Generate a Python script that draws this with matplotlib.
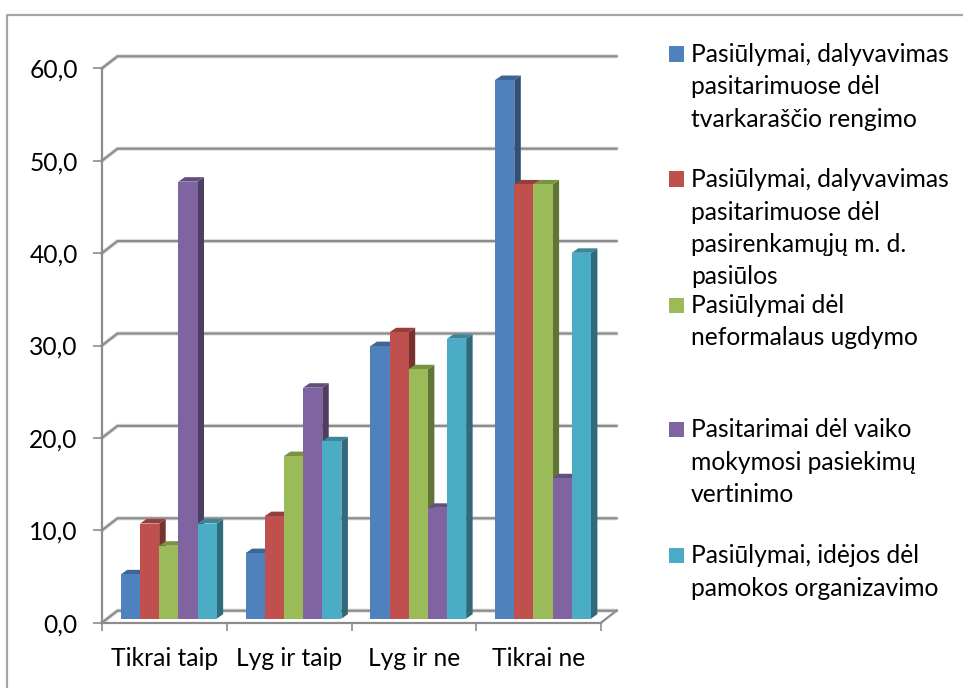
import matplotlib
matplotlib.use("Agg")
import matplotlib.pyplot as plt
from matplotlib.lines import Line2D
from matplotlib.patches import Rectangle
from matplotlib.colors import to_rgb

plt.rcParams['font.family'] = ['Lato', 'DejaVu Sans']

categories = ["Tikrai taip", "Lyg ir taip", "Lyg ir ne", "Tikrai ne"]
s1 = [4.8, 7.1, 29.5, 58.3]
s2 = [10.3, 11.1, 31.0, 47.0]
s3 = [7.9, 17.6, 27.0, 47.0]
s4 = [47.3, 25.0, 12.0, 15.2]
s5 = [10.3, 19.2, 30.3, 39.6]
series = [s1, s2, s3, s4, s5]
colors = ["#4F81BD", "#C0504D", "#9BBB59", "#8064A2", "#4BACC6"]
yticks = [0, 10, 20, 30, 40, 50, 60]
ytick_labels = ["0,0", "10,0", "20,0", "30,0", "40,0", "50,0", "60,0"]
legend_lines = [
    ["Pasiūlymai, dalyvavimas", "pasitarimuose dėl", "tvarkaraščio rengimo"],
    ["Pasiūlymai, dalyvavimas", "pasitarimuose dėl", "pasirenkamųjų m. d.", "pasiūlos"],
    ["Pasiūlymai dėl", "neformalaus ugdymo"],
    ["Pasitarimai dėl vaiko", "mokymosi pasiekimų", "vertinimo"],
    ["Pasiūlymai, idėjos dėl", "pamokos organizavimo"],
]

W, H = 963, 688
FS = 17.7
GRID = "#8C8C8C"
fig = plt.figure(figsize=(W / 100, H / 100), dpi=100, facecolor="white")


def fx(p):
    return p / W


def fy(p):
    return 1 - p / H


# front plane of the chart in pixels
L, R, T, B = 102.0, 601.0, 68.3, 622.7
ax = fig.add_axes([fx(L), fy(B), fx(R) - fx(L), fy(T) - fy(B)])
ax.set_xlim(0, 4)
ax.set_ylim(0, 60)
ax.patch.set_alpha(0)
PX = 4 / (R - L)
PY = 60 / (B - T)

# axes furniture
for s in ("top", "right"):
    ax.spines[s].set_visible(False)
for s in ("left", "bottom"):
    ax.spines[s].set_color(GRID)
    ax.spines[s].set_linewidth(1.6)
ax.set_yticks(yticks)
ax.set_yticklabels(ytick_labels, fontsize=FS, color="black")
ax.set_xticks(range(5))
ax.set_xticklabels([])
ax.set_xticks([i + 0.5 for i in range(4)], minor=True)
ax.set_xticklabels(categories, minor=True, fontsize=FS, color="black")
ax.tick_params(axis="y", length=6.5, width=1.2, color=GRID, pad=11)
ax.tick_params(axis="x", which="major", length=5.5, width=1.2, color=GRID)
ax.tick_params(axis="x", which="minor", length=0, pad=17.5)

# walls: gridlines on the back wall + connectors on the left wall
WDX, WDY = 15.5 * PX, 12.0 * PY
for v in yticks:
    xs, ys = [0, WDX, 4 + WDX], [v, v + WDY, v + WDY]
    ax.plot(xs, ys, color="#DDDDDD", lw=3.0, clip_on=False, zorder=1, solid_capstyle="round")
    ax.plot(xs, ys, color=GRID, lw=1.6, clip_on=False, zorder=1.1)
ax.plot([4, 4 + WDX], [0, WDY], color=GRID, lw=1.6, clip_on=False, zorder=1.1)

# bars
START, BW = 18.9 * PX, 19.15 * PX
BASE = 4.0 * PY
DDX, DDY = 6.5 * PX, 4.5 * PY


def shade(c, f):
    return tuple(v * f for v in to_rgb(c))


z = 2.0
for ci in range(len(categories)):
    for si, vals in enumerate(series):
        x0 = ci + START + si * BW
        x1 = x0 + BW
        v = vals[ci]
        c = colors[si]
        top = BASE + v
        ax.fill([x1, x1 + DDX, x1 + DDX, x1],
                [BASE, BASE + DDY, top + DDY, top],
                color=shade(c, 0.62), lw=0, zorder=z, clip_on=False)
        ax.fill([x0, x0 + DDX, x1 + DDX, x1],
                [top, top + DDY, top + DDY, top],
                color=shade(c, 0.78), lw=0, zorder=z, clip_on=False)
        ax.bar(x0, v, width=BW, bottom=BASE, align="edge", color=c, lw=0,
               zorder=z + 0.1, clip_on=False)
        z += 0.2

# legend
baselines = [[62, 94.5, 127], [187, 219.5, 252, 284.5], [313, 345.5], [437, 469.5, 502], [563, 596]]
for lines, ys, c in zip(legend_lines, baselines, colors):
    fig.add_artist(Rectangle((fx(669), fy(ys[0] - 0.5)), 15 / W, 15 / H,
                             transform=fig.transFigure, color=c, lw=0))
    for t, y in zip(lines, ys):
        fig.text(fx(691), fy(y), t, fontsize=FS, color="black", va="baseline", ha="left")

# chart-area border
fig.add_artist(Line2D([fx(7), fx(7), 1], [0, fy(14.5), fy(14.5)],
                      transform=fig.transFigure, color="#A6A6A6", lw=1.6))

fig.savefig("out.png", dpi=100, facecolor="white")
